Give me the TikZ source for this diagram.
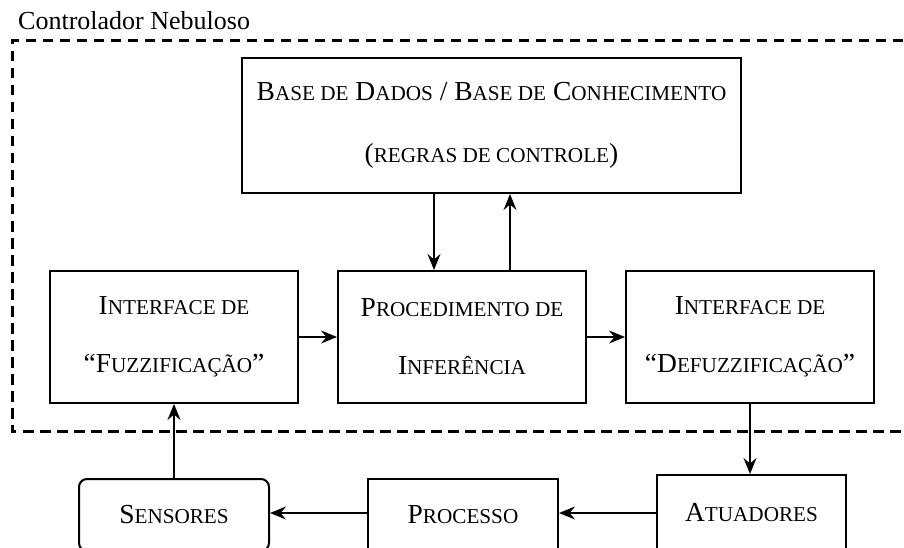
\documentclass[tikz,border=0pt]{standalone}
\usepackage{fontspec}
\setmainfont{Liberation Serif}
\newfontfamily\scf[Scale=0.77]{Liberation Serif}
\usetikzlibrary{arrows.meta}
\newcommand\Sc[2]{#1{\scf #2}}
\begin{document}
\begin{tikzpicture}[x=1pt,y=-1pt,
  box/.style={draw,line width=2pt,inner sep=0pt,minimum width=248pt,minimum height=132pt,align=center,font=\fontsize{27.5}{58}\selectfont},
  lowbox/.style={draw,line width=2pt,inner sep=0pt,align=center,font=\fontsize{27.5}{32}\selectfont},
  arr/.style={line width=2pt,-{Stealth[length=16pt,width=13pt,inset=5.5pt]}},
  dashbox/.style={line width=3pt,dash pattern=on 10.5pt off 6.5pt}]
\clip (0,0) rectangle (904,548);
\useasboundingbox (0,0) rectangle (904,548);
\fill[white] (0,0) rectangle (904,548);
\node[anchor=base west,inner sep=0pt,font=\fontsize{26}{30}\selectfont] (title) at (18,30) {Controlador Nebuloso};
\draw[dashbox] (920,41) -- (12,41) -- (12,431) -- (920,431);
\node[box,minimum width=499pt,minimum height=135pt,font=\fontsize{27.5}{62}\selectfont] (base) at (491.5,125.5)
  {\Sc{B}{ASE DE} \Sc{D}{ADOS} / \Sc{B}{ASE DE} \Sc{C}{ONHECIMENTO}\\({\scf REGRAS DE CONTROLE})};
\node[box] (fuz) at (174,337) {\Sc{I}{NTERFACE DE}\\“\Sc{F}{UZZIFICAÇÃO}”};
\node[box] (proc) at (462,337) {\Sc{P}{ROCEDIMENTO DE}\\\Sc{I}{NFERÊNCIA}};
\node[box] (defz) at (750,337) {\Sc{I}{NTERFACE DE}\\“\Sc{D}{EFUZZIFICAÇÃO}”};
\node[lowbox,rounded corners=8pt,minimum width=190pt,minimum height=72pt] (sen) at (174,515) {\Sc{S}{ENSORES}};
\node[lowbox,minimum width=190pt,minimum height=72pt] (pro) at (463,515) {\Sc{P}{ROCESSO}};
\node[lowbox,minimum width=189pt,minimum height=76pt] (atu) at (751.5,513) {\Sc{A}{TUADORES}};
\coordinate (dn) at (434,0);
\coordinate (up) at (510,0);
\coordinate (lowy) at (0,513);
\draw[arr] (base.south -| dn) -- (proc.north -| dn);
\draw[arr] (proc.north -| up) -- (base.south -| up);
\draw[arr] (fuz.east) -- (proc.west);
\draw[arr] (proc.east) -- (defz.west);
\draw[arr] (defz.south) -- (defz.south |- atu.north);
\draw[arr] (atu.west |- lowy) -- (pro.east |- lowy);
\draw[arr] (pro.west |- lowy) -- (sen.east |- lowy);
\draw[arr] (sen.north) -- (fuz.south);
\end{tikzpicture}
\end{document}
